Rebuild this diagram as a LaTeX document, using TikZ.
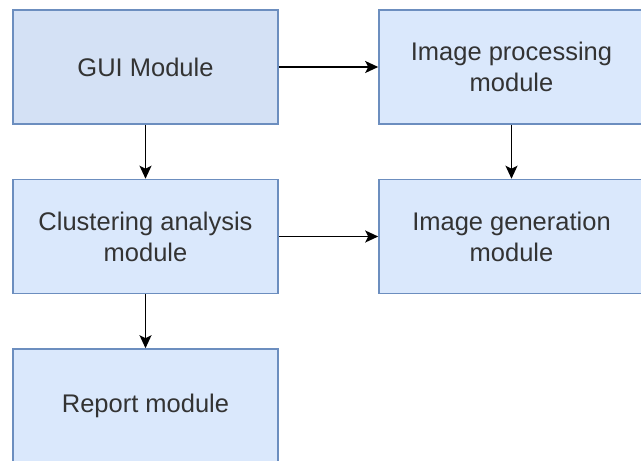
\documentclass[tikz,border=0pt]{standalone}
\usepackage{fontspec}
\setmainfont{Liberation Sans}
\usetikzlibrary{arrows.meta}
\definecolor{boxfill}{HTML}{DAE8FC}
\definecolor{guifill}{HTML}{D4E1F5}
\definecolor{boxline}{HTML}{6C8EBF}
\definecolor{txt}{HTML}{333333}
\begin{document}
\begin{tikzpicture}[x=1pt,y=-1pt,
  modbox/.style={draw=boxline,fill=boxfill,line width=1.6pt,minimum width=265pt,minimum height=114pt,
    inner sep=0pt,align=center,text=txt,font=\fontsize{25.5pt}{31pt}\selectfont},
  conn/.style={line width=1.8pt,-{Stealth[length=13pt,width=12pt,inset=3pt]}}]
\useasboundingbox (0,0) rectangle (641,461);
\begin{scope}
\clip (0,0) rectangle (641,461);
\node[modbox,fill=guifill] (gui) at (145.5,67) {GUI Module};
\node[modbox] (proc) at (511.5,67) {Image processing\\module};
\node[modbox] (clus) at (145.5,236.5) {Clustering analysis\\module};
\node[modbox] (gen) at (511.5,236.5) {Image generation\\module};
\node[modbox] (rep) at (145.5,406) {Report module};
\end{scope}
\draw[conn] (gui.east) -- (proc.west);
\draw[conn] (gui.south) -- (clus.north);
\draw[conn] (proc.south) -- (gen.north);
\draw[conn] (clus.east) -- (gen.west);
\draw[conn] (clus.south) -- (rep.north);
\end{tikzpicture}
\end{document}
